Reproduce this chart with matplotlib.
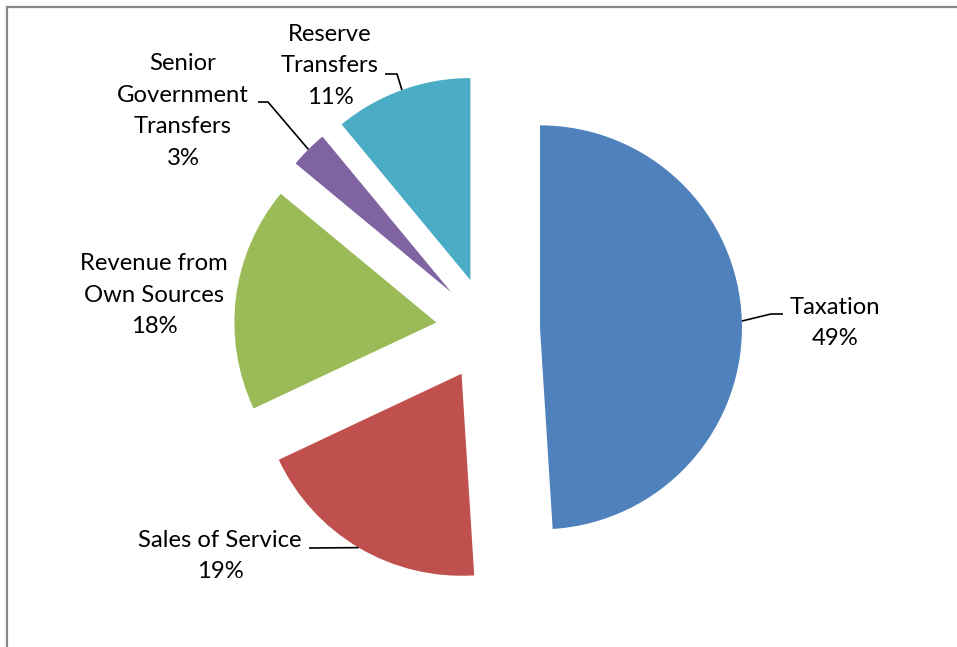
import matplotlib
matplotlib.use("Agg")
import matplotlib.pyplot as plt
import numpy as np
from matplotlib.patches import Rectangle

# ---- data ----
categories = ["Taxation", "Sales of Service", "Revenue from\nOwn Sources",
              "Senior\nGovernment\nTransfers", "Reserve\nTransfers"]
values = [49, 19, 18, 3, 11]
colors = ["#4F81BD", "#C0504D", "#9BBB59", "#8064A2", "#4BACC6"]

W, H = 957, 647
plt.rcParams['font.family'] = ['Lato', 'DejaVu Sans']

fig = plt.figure(figsize=(W / 100, H / 100), dpi=100)
fig.patch.set_facecolor("white")
ax = fig.add_axes([0, 0, 1, 1])

def Y(py):
    return H - py

R = 202
cx, cy = 488, Y(329)
explode_dist = 52  # pie() offsets wedges in data units
wedges, _ = ax.pie(values, colors=colors, startangle=90, counterclock=False,
                   radius=R, center=(cx, cy), explode=[explode_dist] * len(values),
                   wedgeprops=dict(linewidth=0), frame=True)
ax.set_xlim(0, W)
ax.set_ylim(0, H)
ax.set_aspect("equal")
ax.axis("off")

# label layout: (text center x, text center y px, elbow x, leader y px, text-side x)
label_layout = [
    (835, 323, 771, 314, 783),
    (220, 556, None, 548, 309),
    (154, 295, None, None, None),
    (183, 111, 268, 102, 258),
    (330, 66, 397, 74, 385),
]

fs = 17.2
for w, name, v, lay in zip(wedges, categories, values, label_layout):
    tx, ty, ex, ly, sx = lay
    ax.text(tx, Y(ty), f"{name}\n{v}%", ha="center", va="center",
            multialignment="center", fontsize=fs, linespacing=1.62, color="black")
    if ly is None:
        continue
    mid = np.deg2rad((w.theta1 + w.theta2) / 2)
    wx, wy = w.center
    px = wx + R * np.cos(mid)
    py = wy + R * np.sin(mid)
    if ex is None:
        xs = [sx, px]
        ys = [Y(ly), py]
    else:
        xs = [sx, ex, px]
        ys = [Y(ly), Y(ly), py]
    ax.plot(xs, ys, color="black", linewidth=1.2, solid_capstyle="butt")

# chart border (Excel-like frame, cropped on right/bottom)
fig.patches.append(Rectangle((7 / W, -0.1), 1.2, (H - 7) / H + 0.1,
                             transform=fig.transFigure, fill=False,
                             edgecolor="#878787", linewidth=1.6))

fig.savefig("out.png", dpi=100, facecolor="white")
